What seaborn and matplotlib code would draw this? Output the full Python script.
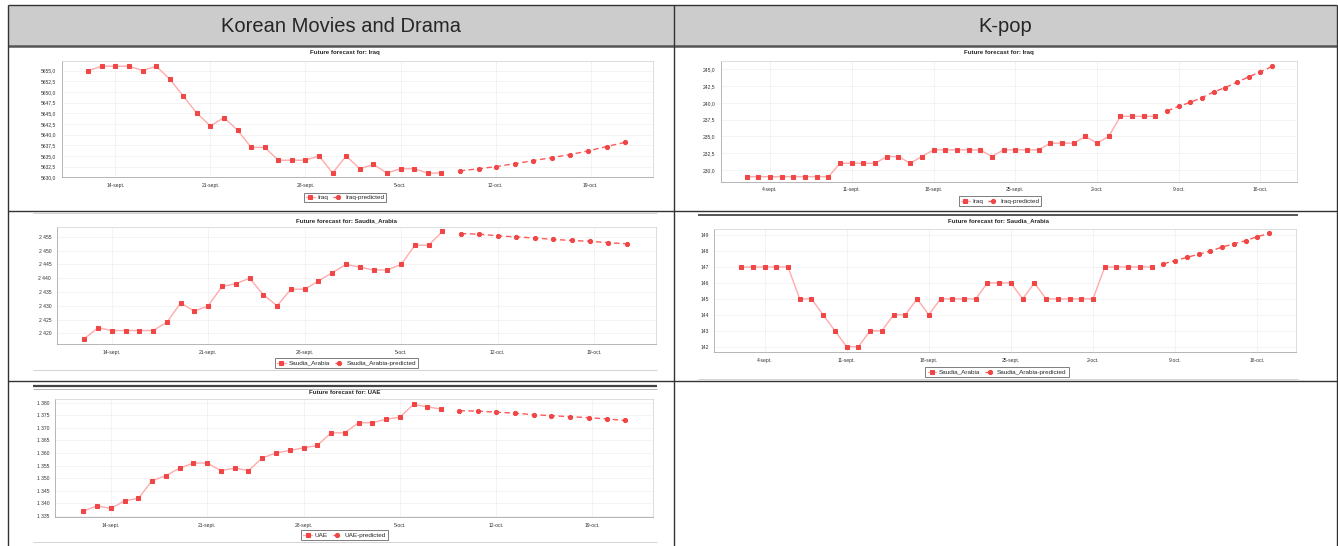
import matplotlib
matplotlib.use("Agg")
import matplotlib.pyplot as plt
import seaborn as sns
from matplotlib.lines import Line2D
from matplotlib.patches import Rectangle

W, H = 1338, 546

# x values are day numbers counted from 1 september (1-oct. = 31)
kmd_iraq_days = list(range(12, 39))
kmd_iraq = [5655, 5656, 5656, 5656, 5655, 5656, 5653, 5649, 5645, 5642, 5644, 5641,
            5637, 5637, 5634, 5634, 5634, 5635, 5631, 5635, 5632, 5633, 5631, 5632,
            5632, 5631, 5631]
kmd_iraq_pred_days = [39.35, 40.76, 42.06, 43.44, 44.77, 46.13, 47.47, 48.85, 50.18, 51.56]
kmd_iraq_pred = [5631.5, 5632.0, 5632.5, 5633.2, 5633.9, 5634.6, 5635.3, 5636.2, 5637.2, 5638.2]

kmd_saudi_days = list(range(12, 39))
kmd_saudi = [2418, 2422, 2421, 2421, 2421, 2421, 2424, 2431, 2428, 2430, 2437, 2438,
             2440, 2434, 2430, 2436, 2436, 2439, 2442, 2445, 2444, 2443, 2443, 2445,
             2452, 2452, 2457]
kmd_saudi_pred_days = [39.33, 40.65, 42.01, 43.33, 44.69, 46.04, 47.39, 48.72, 50.05, 51.4]
kmd_saudi_pred = [2456.2, 2456.0, 2455.4, 2455.0, 2454.6, 2454.1, 2453.7, 2453.4, 2452.9, 2452.5]

kmd_uae_days = list(range(12, 39))
kmd_uae = [1337, 1339, 1338, 1341, 1342, 1349, 1351, 1354, 1356, 1356, 1353, 1354,
           1353, 1358, 1360, 1361, 1362, 1363, 1368, 1368, 1372, 1372, 1373.4, 1374.2,
           1379.3, 1378.3, 1377.4]
kmd_uae_pred_days = [39.33, 40.65, 42.0, 43.36, 44.72, 46.0, 47.38, 48.72, 50.05, 51.4]
kmd_uae_pred = [1376.8, 1376.6, 1376.2, 1375.8, 1375.2, 1374.8, 1374.4, 1374.0, 1373.5, 1372.9]

kpop_iraq_days = list(range(2, 38))
kpop_iraq = [229, 229, 229, 229, 229, 229, 229, 229, 231, 231, 231, 231,
             232, 232, 231, 232, 233, 233, 233, 233, 233, 232, 233, 233,
             233, 233, 234, 234, 234, 235, 234, 235, 238, 238, 238, 238]
kpop_iraq_pred_days = list(range(38, 48))
kpop_iraq_pred = [238.8, 239.5, 240.1, 240.8, 241.65, 242.3, 243.1, 243.9, 244.65, 245.45]

kpop_saudi_days = list(range(2, 38))
kpop_saudi = [147, 147, 147, 147, 147, 145, 145, 144, 143, 142, 142, 143,
              143, 144, 144, 145, 144, 145, 145, 145, 145, 146, 146, 146,
              145, 146, 145, 145, 145, 145, 145, 147, 147, 147, 147, 147]
kpop_saudi_pred_days = list(range(38, 48))
kpop_saudi_pred = [147.2, 147.4, 147.6, 147.8, 148.0, 148.25, 148.45, 148.65, 148.9, 149.1]

kmd_xticks = [14, 21, 28, 35, 42, 49]
kmd_xlabels = ["14-sept.", "21-sept.", "28-sept.", "5-oct.", "12-oct.", "19-oct."]
kpop_xticks = [4, 11, 18, 25, 32, 39, 46]
kpop_xlabels = ["4-sept.", "11-sept.", "18-sept.", "25-sept.", "2-oct.", "9-oct.", "16-oct."]

kmd_iraq_yticks = [5630, 5632.5, 5635, 5637.5, 5640, 5642.5, 5645, 5647.5, 5650, 5652.5, 5655]
kmd_iraq_ylabels = ["5630,0", "5632,5", "5635,0", "5637,5", "5640,0", "5642,5",
                    "5645,0", "5647,5", "5650,0", "5652,5", "5655,0"]
kmd_saudi_yticks = [2420, 2425, 2430, 2435, 2440, 2445, 2450, 2455]
kmd_saudi_ylabels = ["2 420", "2 425", "2 430", "2 435", "2 440", "2 445", "2 450", "2 455"]
kmd_uae_yticks = [1335, 1340, 1345, 1350, 1355, 1360, 1365, 1370, 1375, 1380]
kmd_uae_ylabels = ["1 335", "1 340", "1 345", "1 350", "1 355", "1 360", "1 365",
                   "1 370", "1 375", "1 380"]
kpop_iraq_yticks = [230, 232.5, 235, 237.5, 240, 242.5, 245]
kpop_iraq_ylabels = ["230,0", "232,5", "235,0", "237,5", "240,0", "242,5", "245,0"]
kpop_saudi_yticks = [142, 143, 144, 145, 146, 147, 148, 149]
kpop_saudi_ylabels = ["142", "143", "144", "145", "146", "147", "148", "149"]

sns.set_style("white")
plt.rcParams["font.family"] = ["Liberation Sans", "DejaVu Sans"]

fig = plt.figure(figsize=(W / 100, H / 100), dpi=100)


def fx(px):
    return px / W


def fy(py):
    return 1 - py / H


def hline(y, x0, x1, lw=1.0, color="#333333"):
    fig.add_artist(Line2D([fx(x0), fx(x1)], [fy(y), fy(y)], transform=fig.transFigure,
                          lw=lw, color=color, solid_capstyle="butt"))


def vline(x, y0, y1, lw=1.0, color="#333333"):
    fig.add_artist(Line2D([fx(x), fx(x)], [fy(y0), fy(y1)], transform=fig.transFigure,
                          lw=lw, color=color, solid_capstyle="butt"))


# table frame and header
fig.add_artist(Rectangle((fx(8), fy(46)), fx(1337) - fx(8), fy(5) - fy(46),
                         transform=fig.transFigure, facecolor="#cccccc", edgecolor="none"))
fig.text(fx(341), fy(26), "Korean Movies and Drama", ha="center", va="center", fontsize=14.5)
fig.text(fx(1005), fy(26), "K-pop", ha="center", va="center", fontsize=14.5)
hline(5, 8, 1337)
hline(46, 8, 1337, lw=1.8, color="#555555")
hline(211, 8, 1337)
hline(381, 8, 1337)
vline(8, 5, 546)
vline(674, 5, 546)
vline(1337, 5, 546)

# frames of the pasted chart images
hline(213.5, 33, 657, lw=0.6, color="#cccccc")
hline(370, 33, 657, lw=0.6, color="#cccccc")
hline(386, 33, 657, lw=1.6, color="#444444")
hline(388.5, 33, 657, lw=0.6, color="#aaaaaa")
hline(542, 33, 657, lw=0.6, color="#cccccc")
hline(215, 698, 1298, lw=1.4, color="#555555")
hline(378.5, 698, 1298, lw=0.6, color="#cccccc")


def draw_chart(rect, title, name, days, vals, pdays, pvals, xlim, ylim,
               xticks, xlabels, yticks, ylabels, title_pos, legend_pos):
    l, t, r, b = rect
    ax = fig.add_axes([fx(l), fy(b), (r - l) / W, (b - t) / H])
    sns.lineplot(x=days, y=vals, ax=ax, color="#ffabab", linewidth=1.0,
                 marker="s", markersize=3.4, markerfacecolor="#f04646",
                 markeredgecolor="#f04646", label=name)
    sns.lineplot(x=pdays, y=pvals, ax=ax, color="#ff5a5a", linewidth=1.0,
                 linestyle=(0, (4, 2.5)), marker="o", markersize=3.0,
                 markerfacecolor="#f04646", markeredgecolor="#f04646",
                 label=name + "-predicted")
    ax.set_xlim(*xlim)
    ax.set_ylim(*ylim)
    ax.set_xticks(xticks)
    ax.set_xticklabels(xlabels, fontsize=3.6, color="#333333")
    ax.set_yticks(yticks)
    ax.set_yticklabels(ylabels, fontsize=3.6, color="#333333")
    ax.set_xlabel("")
    ax.set_ylabel("")
    ax.tick_params(length=2, width=0.4, color="#888888", pad=2)
    ax.grid(True, color="#e2e2e2", lw=0.4, ls=(0, (2, 1)))
    for side, sp in ax.spines.items():
        sp.set_linewidth(0.5)
        sp.set_color("#999999" if side in ("left", "bottom") else "#d0d0d0")
    handles, labels = ax.get_legend_handles_labels()
    if ax.get_legend() is not None:
        ax.get_legend().remove()
    leg = fig.legend(handles, labels, loc="center",
                     bbox_to_anchor=(fx(legend_pos[0]), fy(legend_pos[1])),
                     ncol=2, fontsize=4.6, frameon=True, fancybox=False,
                     edgecolor="#444444", handlelength=1.4, handletextpad=0.4,
                     columnspacing=0.8, borderpad=0.35, borderaxespad=0)
    leg.get_frame().set_linewidth(0.6)
    fig.text(fx(title_pos[0]), fy(title_pos[1]), title, ha="center", va="center",
             fontsize=4.4, fontweight="bold")
    return ax


draw_chart((61.7, 60.7, 652.7, 177.3), "Future forecast for: Iraq", "Iraq",
           kmd_iraq_days, kmd_iraq, kmd_iraq_pred_days, kmd_iraq_pred,
           (10.04, 53.58), (5630, 5657.3), kmd_xticks, kmd_xlabels,
           kmd_iraq_yticks, kmd_iraq_ylabels, (345, 52.5), (345, 197.5))

draw_chart((56.7, 227, 656, 344.3), "Future forecast for: Saudia_Arabia", "Saudia_Arabia",
           kmd_saudi_days, kmd_saudi, kmd_saudi_pred_days, kmd_saudi_pred,
           (10.0, 53.5), (2416, 2458.6), kmd_xticks, kmd_xlabels,
           kmd_saudi_yticks, kmd_saudi_ylabels, (346, 221), (346.5, 363))

draw_chart((55, 399.3, 653, 517), "Future forecast for: UAE", "UAE",
           kmd_uae_days, kmd_uae, kmd_uae_pred_days, kmd_uae_pred,
           (9.94, 53.4), (1334.6, 1381.3), kmd_xticks, kmd_xlabels,
           kmd_uae_yticks, kmd_uae_ylabels, (345, 392), (344.5, 535))

draw_chart((721, 60.7, 1296.7, 181.7), "Future forecast for: Iraq", "Iraq",
           kpop_iraq_days, kpop_iraq, kpop_iraq_pred_days, kpop_iraq_pred,
           (-0.2, 49.1), (228.25, 246.3), kpop_xticks, kpop_xlabels,
           kpop_iraq_yticks, kpop_iraq_ylabels, (999, 52.5), (1000, 201))

draw_chart((714.3, 228.7, 1296, 352), "Future forecast for: Saudia_Arabia", "Saudia_Arabia",
           kpop_saudi_days, kpop_saudi, kpop_saudi_pred_days, kpop_saudi_pred,
           (-0.28, 49.3), (141.67, 149.4), kpop_xticks, kpop_xlabels,
           kpop_saudi_yticks, kpop_saudi_ylabels, (998, 221), (997, 372))

fig.savefig("out.png", dpi=100)
